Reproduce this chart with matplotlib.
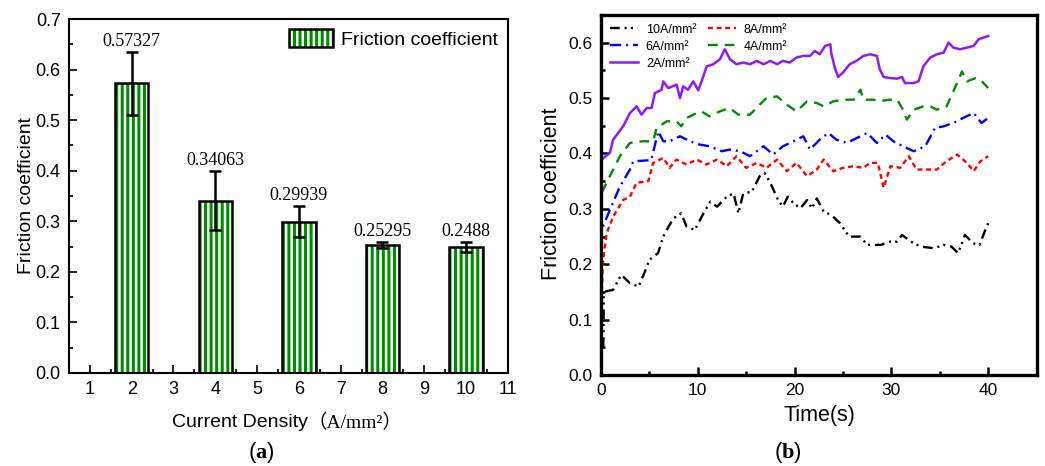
import matplotlib
matplotlib.use("Agg")
import matplotlib.pyplot as plt
from matplotlib.patches import Patch
from matplotlib.legend_handler import HandlerTuple
from matplotlib.ticker import MultipleLocator, FormatStrFormatter

plt.rcParams['font.family'] = ['Liberation Sans', 'DejaVu Sans']
plt.rcParams['hatch.linewidth'] = 1.8
plt.rcParams['lines.scale_dashes'] = False
plt.rcParams['mathtext.fontset'] = 'custom'
plt.rcParams['mathtext.rm'] = 'Liberation Serif'
plt.rcParams['mathtext.bf'] = 'Liberation Serif:bold'

# ---- (a) mean friction coefficient per current density ----
densities = [2, 4, 6, 8, 10]
mean_cof = [0.57327, 0.34063, 0.29939, 0.25295, 0.2488]
cof_err = [0.062, 0.058, 0.030, 0.006, 0.010]
value_labels = ["0.57327", "0.34063", "0.29939", "0.25295", "0.2488"]

# ---- (b) friction coefficient vs time ----
t_2a = [0.0, 0.07, 0.93, 1.27, 2.3, 3.0, 3.69, 4.2, 4.72, 5.24, 5.58, 6.27, 6.44, 6.96, 7.82,
        8.17, 8.5, 9.0, 9.54, 10.06, 10.58, 10.92, 11.6, 12.3, 12.8, 13.33, 14.0, 14.7, 15.4,
        16.1, 16.8, 17.5, 18.2, 18.8, 19.5, 20.2, 20.9, 21.6, 22.1, 22.6, 23.15, 23.7, 23.8,
        24.2, 24.5, 25.0, 25.7, 26.4, 27.1, 27.8, 28.5, 28.8, 29.2, 29.9, 30.6, 31.1, 31.4,
        32.3, 32.8, 33.3, 34.0, 34.7, 35.4, 35.9, 36.4, 37.1, 37.8, 38.5, 39.0, 40.0]
cof_2a = [0.385, 0.389, 0.401, 0.425, 0.449, 0.473, 0.485, 0.470, 0.482, 0.482, 0.509, 0.515,
          0.530, 0.518, 0.524, 0.500, 0.521, 0.515, 0.530, 0.514, 0.539, 0.557, 0.561, 0.570,
          0.588, 0.570, 0.561, 0.564, 0.561, 0.567, 0.561, 0.567, 0.561, 0.567, 0.564, 0.573,
          0.576, 0.576, 0.585, 0.579, 0.594, 0.597, 0.580, 0.552, 0.538, 0.546, 0.561, 0.567,
          0.576, 0.579, 0.576, 0.552, 0.538, 0.536, 0.535, 0.538, 0.527, 0.527, 0.530, 0.557,
          0.573, 0.579, 0.582, 0.600, 0.591, 0.588, 0.591, 0.594, 0.606, 0.612]

t_4a = [0.0, 0.07, 0.93, 1.96, 3.0, 4.37, 5.4, 5.75, 6.8, 7.8, 8.3, 8.85, 9.9, 10.4, 11.2, 12.3,
        13.3, 14.2, 15.4, 16.4, 17.1, 18.2, 19.2, 20.2, 21.3, 22.3, 23.0, 24.0, 25.0, 26.1,
        26.8, 27.1, 28.1, 28.8, 29.7, 30.6, 31.2, 31.6, 32.3, 33.3, 34.0, 34.7, 35.7, 36.4,
        37.3, 37.8, 38.7, 39.2, 40.0]
cof_4a = [0.30, 0.329, 0.359, 0.395, 0.419, 0.422, 0.422, 0.446, 0.458, 0.458, 0.449, 0.464,
          0.473, 0.476, 0.467, 0.476, 0.482, 0.470, 0.470, 0.488, 0.500, 0.503, 0.488, 0.476,
          0.494, 0.491, 0.485, 0.494, 0.497, 0.497, 0.515, 0.497, 0.497, 0.494, 0.497, 0.497,
          0.479, 0.461, 0.479, 0.485, 0.485, 0.479, 0.485, 0.512, 0.548, 0.530, 0.536, 0.533,
          0.518]

t_6a = [0.0, 0.07, 0.93, 1.96, 3.0, 3.35, 4.37, 5.2, 5.93, 6.44, 7.1, 8.17, 9.2, 10.2, 11.2,
        12.5, 13.3, 14.4, 15.4, 16.8, 17.8, 18.8, 19.9, 20.9, 21.6, 22.6, 23.5, 24.3, 25.4,
        26.8, 27.5, 28.5, 29.4, 30.2, 31.2, 32.3, 33.5, 34.5, 35.4, 36.4, 37.4, 38.5, 39.3,
        40.0]
cof_6a = [0.24, 0.262, 0.298, 0.340, 0.371, 0.386, 0.387, 0.388, 0.440, 0.422, 0.422, 0.431,
          0.422, 0.416, 0.413, 0.404, 0.407, 0.404, 0.395, 0.413, 0.398, 0.413, 0.422, 0.431,
          0.407, 0.425, 0.437, 0.425, 0.419, 0.431, 0.437, 0.419, 0.434, 0.422, 0.413, 0.404,
          0.413, 0.446, 0.449, 0.455, 0.464, 0.473, 0.455, 0.464]

t_8a = [0.1, 0.2, 0.59, 1.27, 2.3, 3.0, 3.69, 4.9, 5.4, 6.44, 7.1, 7.8, 8.85, 9.9, 10.9, 12.0,
        13.0, 14.0, 15.0, 16.1, 17.1, 18.2, 19.2, 20.2, 21.3, 22.3, 23.0, 24.0, 25.0, 26.1,
        27.1, 27.8, 28.6, 29.2, 29.9, 30.9, 31.8, 32.6, 33.7, 34.7, 35.7, 36.8, 37.8, 38.5,
        39.2, 40.0]
cof_8a = [0.151, 0.202, 0.256, 0.286, 0.316, 0.322, 0.347, 0.350, 0.383, 0.392, 0.374, 0.389,
          0.380, 0.389, 0.380, 0.389, 0.377, 0.395, 0.374, 0.383, 0.374, 0.389, 0.368, 0.383,
          0.359, 0.371, 0.389, 0.368, 0.374, 0.377, 0.374, 0.383, 0.383, 0.338, 0.377, 0.374,
          0.395, 0.371, 0.371, 0.371, 0.386, 0.398, 0.383, 0.368, 0.386, 0.395]

t_10a = [0.25, 0.28, 0.3, 0.5, 1.27, 2.1, 3.0, 3.9, 4.55, 5.0, 5.9, 6.44, 6.8, 7.5, 8.3, 8.85,
         9.7, 10.6, 11.3, 12.0, 13.0, 13.7, 14.2, 14.7, 15.6, 16.4, 16.9, 17.5, 18.3, 18.8,
         19.3, 19.9, 20.6, 21.3, 21.8, 22.3, 23.0, 23.8, 24.7, 25.4, 25.6, 26.8, 27.5, 28.9,
         29.9, 30.6, 31.1, 32.0, 33.0, 34.4, 35.4, 36.2, 36.9, 37.6, 38.4, 39.1, 39.7, 40.0]
cof_10a = [0.051, 0.099, 0.148, 0.151, 0.154, 0.181, 0.166, 0.160, 0.187, 0.208, 0.220, 0.250,
           0.262, 0.283, 0.292, 0.268, 0.262, 0.292, 0.313, 0.304, 0.322, 0.328, 0.292, 0.328,
           0.331, 0.359, 0.365, 0.347, 0.316, 0.304, 0.322, 0.310, 0.301, 0.316, 0.301, 0.319,
           0.295, 0.289, 0.274, 0.256, 0.250, 0.250, 0.235, 0.235, 0.241, 0.241, 0.253, 0.241,
           0.232, 0.229, 0.235, 0.232, 0.220, 0.253, 0.238, 0.235, 0.262, 0.274]

series_labels = ["10A/mm\u00b2", "8A/mm\u00b2", "6A/mm\u00b2", "4A/mm\u00b2", "2A/mm\u00b2"]

GREEN = "#008c00"

fig = plt.figure(figsize=(10.45, 4.66), dpi=100)
fig.patch.set_facecolor("white")

# ------------------------------------------------------------------ (a)
ax1 = fig.add_axes([0.066, 0.1996, 0.42, 0.7594])
ax1.bar(densities, mean_cof, width=0.8, color=GREEN, edgecolor="white",
        linewidth=0, hatch="|||", zorder=2)
ax1.bar(densities, mean_cof, width=0.8, fill=False, edgecolor="black",
        linewidth=1.8, zorder=3)
ax1.errorbar(densities, mean_cof, yerr=cof_err, fmt="none", ecolor="black",
             elinewidth=1.8, capsize=4, capthick=1.8, zorder=4)
for x, v, e, s in zip(densities, mean_cof, cof_err, value_labels):
    ax1.annotate(s, (x, v + e), xytext=(0, 1.5), textcoords="offset points",
                 ha="center", va="bottom", fontsize=13, family="Liberation Serif")

ax1.set_xlim(0.5, 11)
ax1.set_ylim(0, 0.7)
ax1.xaxis.set_major_locator(MultipleLocator(1))
ax1.xaxis.set_minor_locator(MultipleLocator(0.5))
ax1.yaxis.set_major_locator(MultipleLocator(0.1))
ax1.yaxis.set_minor_locator(MultipleLocator(0.05))
ax1.yaxis.set_major_formatter(FormatStrFormatter("%.1f"))
ax1.tick_params(which="both", direction="in", top=False, right=False,
                labelsize=13, width=1.2)
ax1.tick_params(which="major", length=6, pad=6)
ax1.tick_params(which="minor", length=3)
for sp in ax1.spines.values():
    sp.set_linewidth(1.5)

hatched = Patch(facecolor=GREEN, edgecolor="white", linewidth=0, hatch="|||")
outline = Patch(fill=False, edgecolor="black", linewidth=1.8)
ax1.legend([(hatched, outline)], ["Friction coefficient"],
           handler_map={tuple: HandlerTuple(ndivide=1, pad=0)},
           loc="upper right", frameon=False, fontsize=14,
           handlelength=2.3, handleheight=1.1, handletextpad=0.4,
           borderaxespad=0.2, borderpad=0.3)

fig.text(0.0255, 0.58, "Friction coefficient", rotation=90, ha="center",
         va="center", fontsize=14)
fig.text(0.2947, 0.0923, "Current Density", ha="right", va="center", fontsize=14)
fig.text(0.2947, 0.0923, "\uff08A/mm\u00b2\uff09", ha="left", va="center", fontsize=14,
         family=["Liberation Serif", "Noto Sans CJK SC"])
fig.text(0.2497, 0.03, r"($\mathbf{a}$)", ha="center", va="center", fontsize=16)

# ------------------------------------------------------------------ (b)
ax2 = fig.add_axes([0.575, 0.195, 0.417, 0.773])
l10, = ax2.plot(t_10a, cof_10a, color="black", lw=1.7, dashes=(7, 3.5, 1.5, 3, 1.5, 3.5))
l8, = ax2.plot(t_8a, cof_8a, color="#ff0000", lw=1.7, dashes=(3.6, 2.6))
l6, = ax2.plot(t_6a, cof_6a, color="#0000ff", lw=1.7, dashes=(8, 3.6, 1.4, 3.6))
l4, = ax2.plot(t_4a, cof_4a, color="#008c00", lw=1.7, dashes=(7, 5))
l2, = ax2.plot(t_2a, cof_2a, color="#8c1aff", lw=1.8)

ax2.set_xlim(0, 45)
ax2.set_ylim(0, 0.65)
ax2.xaxis.set_major_locator(MultipleLocator(10))
ax2.xaxis.set_minor_locator(MultipleLocator(5))
ax2.yaxis.set_major_locator(MultipleLocator(0.1))
ax2.yaxis.set_minor_locator(MultipleLocator(0.05))
ax2.yaxis.set_major_formatter(FormatStrFormatter("%.1f"))
ax2.tick_params(which="both", direction="in", top=False, right=False,
                labelsize=12.5, width=1.8)
ax2.tick_params(which="major", length=6, pad=6)
ax2.tick_params(which="minor", length=3)
for sp in ax2.spines.values():
    sp.set_linewidth(2.4)

ax2.legend([l10, l6, l2, l8, l4],
           [series_labels[0], series_labels[2], series_labels[4],
            series_labels[1], series_labels[3]],
           ncol=2, loc="upper left", frameon=False, fontsize=9,
           handlelength=2.3, handletextpad=0.6, columnspacing=0.9,
           labelspacing=0.4, borderaxespad=0.5, borderpad=0.2)

fig.text(0.528, 0.585, "Friction coefficient", rotation=90, ha="center",
         va="center", fontsize=15.5)
fig.text(0.7837, 0.109, "Time(s)", ha="center", va="center", fontsize=15.5)
fig.text(0.754, 0.03, r"($\mathbf{b}$)", ha="center", va="center", fontsize=16)

fig.savefig("out.png", dpi=100, facecolor="white")
